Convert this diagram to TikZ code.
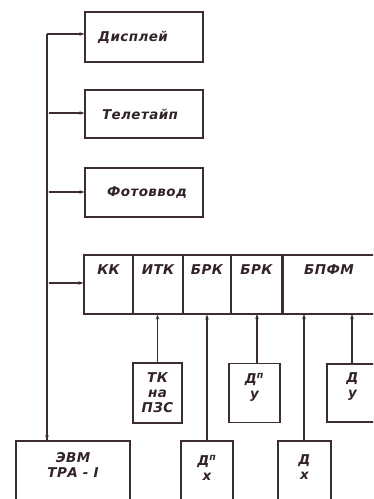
\documentclass[tikz,border=0pt]{standalone}
\usepackage{fontspec}
\newfontfamily\hw[LetterSpace=3]{DejaVu Sans}
\usetikzlibrary{arrows.meta}
\begin{document}
\begin{tikzpicture}[x=1pt,y=-1pt,
  line width=1.1pt, draw={rgb,255:red,60;green,45;blue,50},
  every node/.style={font=\hw\bfseries\itshape\fontsize{13.5}{15}\selectfont, text={rgb,255:red,50;green,35;blue,40}},
  box/.style={draw, rectangle, inner sep=0pt, line width=1.1pt},
  arr/.style={-{Stealth[length=5pt,width=3.5pt]}},
  dot/.style={circle, fill={rgb,255:red,60;green,45;blue,50}, inner sep=0pt, minimum size=2.6pt}]
\useasboundingbox (0,0) rectangle (373,499);
\clip (0,0) rectangle (373,499);
% top devices
\node[box, minimum width=118pt, minimum height=50pt] (disp) at (144,37) {};
\node at (133,37) {Дисплей};
\node[box, minimum width=118pt, minimum height=48pt] (tel) at (144,114) {};
\node at (140,114) {Телетайп};
\node[box, minimum width=118pt, minimum height=49pt] (foto) at (144,192.5) {};
\node at (147,192.5) {Фотоввод};
% row of cells
\tikzset{cell/.style={box, minimum height=59pt}}
\node[cell, minimum width=49pt] (kk) at (108.5,284.5) {};
\node[cell, minimum width=50pt] (itk) at (158,284.5) {};
\node[cell, minimum width=48pt] (brk1) at (207,284.5) {};
\node[cell, minimum width=51pt] (brk2) at (256.5,284.5) {};
\node[cell, minimum width=95pt] (bpfm) at (329.5,284.5) {};
\draw[line width=3pt] (brk2.north east) -- (brk2.south east);
\node at (108.5,270) {КК};
\node at (158,270) {ИТК};
\node at (207,270) {БРК};
\node at (256.5,270) {БРК};
\node at (329,270) {БПФМ};
% bottom boxes
\node[box, minimum width=49pt, minimum height=60pt, align=center] (tk) at (157.5,393) {ТК\\на\\ПЗС};
\node[box, minimum width=51pt, minimum height=59pt] (dpy) at (254.5,393) {};
\node[align=center, anchor=north] at (254.5,369) {Д\textsuperscript{п}\\у};
\node[box, minimum width=51pt, minimum height=58pt] (dy) at (352.5,393) {};
\node[align=center, anchor=north] at (352.5,369) {Д\\у};
\node[box, minimum width=114pt, minimum height=80pt] (evm) at (73,481) {};
\node[align=center, anchor=north] at (73,449) {ЭВМ\\ТРА - I};
\node[box, minimum width=52pt, minimum height=80pt] (dpx) at (207,481) {};
\node[align=center, anchor=north] at (207,451) {Д\textsuperscript{п}\\х};
\node[box, minimum width=53pt, minimum height=80pt] (dx) at (304.5,481) {};
\node[align=center, anchor=north] at (304.5,451) {Д\\х};
% bus
\coordinate (btop) at (47,34);
\coordinate (bevm) at (47,441);
\draw (bevm) -- (btop);
\draw[arr] (btop) -- (btop -| disp.west);
\node[dot] (j1) at (47,113) {};
\node[dot] (j2) at (47,192) {};
\node[dot] (j3) at (47,283) {};
\draw[arr] (j1) -- (j1 -| tel.west);
\draw[arr] (j2) -- (j2 -| foto.west);
\draw[arr] (j3) -- (j3 -| kk.west);
\draw[arr] (47,300) -- (evm.north -| 47,0);
% verticals into row
\draw[arr] (tk.north) -- (tk.north |- itk.south);
\draw[arr] (dpx.north) -- (dpx.north |- brk1.south);
\draw[arr] (dpy.north -| 257,0) -- (257,314);
\draw[arr] (dx.north -| 304,0) -- (304,314);
\draw[arr] (dy.north -| 352,0) -- (352,314);
\end{tikzpicture}
\end{document}
